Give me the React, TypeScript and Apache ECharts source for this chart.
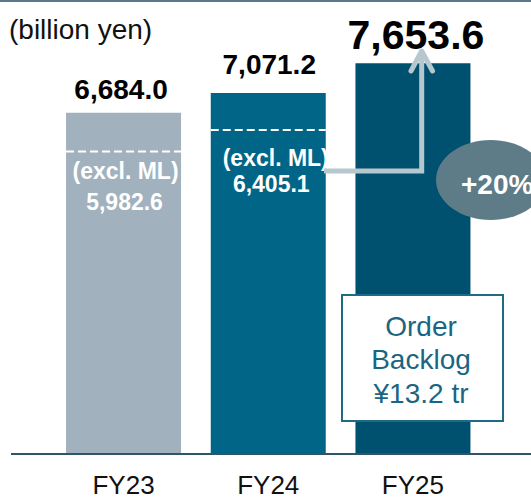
import React, { useEffect, useRef } from "react";
import * as echarts from "echarts";

const CATEGORIES = ["FY23", "FY24", "FY25"];
const TOTAL_VALUES = [6684.0, 7071.2, 7653.6];
const EXCL_ML_VALUES = [5982.6, 6405.1];
const EXCL_LABEL = "(excl. ML)";
const UNIT_LABEL = "(billion yen)";
const GROWTH_LABEL = "+20%";
const BACKLOG_LINES = ["Order", "Backlog", "¥13.2 tr"];

const BAR_COLORS = ["#A2B1BE", "#006587", "#00516F"];
const FONT = "'Liberation Sans', Arial, sans-serif";
const BAR_WIDTH = 115;
const LABEL_SIZES = [28, 28, 41];
const LABEL_DIST = [9, 15, 8];
const LABEL_DX = [-2.5, 1, 3];
// per-item layout of the white texts inside the bars: [dx line1, dy line1, dx line2, dy line2]
const EXCL_TEXT_LAYOUT = [
  [2, 19, 1, 50],
  [7.5, 28, 3, 54],
];

const fmt = (v: number) =>
  v.toLocaleString("en-US", { minimumFractionDigits: 1, maximumFractionDigits: 1 });

export default function App() {
  const ref = useRef<HTMLDivElement>(null);
  useEffect(() => {
    if (!ref.current) return;
    const chart = echarts.init(ref.current, undefined, { renderer: "svg" });
    chart.setOption({
      animation: false,
      grid: { left: 51.2, right: 45.7, top: 45.6, bottom: 45 },
      xAxis: {
        type: "category",
        data: CATEGORIES,
        axisLine: { show: false },
        axisTick: { show: false },
        axisLabel: { color: "#111", fontSize: 26, fontFamily: FONT, margin: 18 },
      },
      yAxis: {
        type: "value",
        min: 0,
        max: 8000,
        show: false,
        splitLine: { show: false },
      },
      series: [
        {
          type: "bar",
          barWidth: BAR_WIDTH,
          data: TOTAL_VALUES.map((v, i) => ({
            value: v,
            itemStyle: { color: BAR_COLORS[i] },
            label: {
              show: true,
              position: "top",
              distance: LABEL_DIST[i],
              offset: [LABEL_DX[i], 0],
              fontSize: LABEL_SIZES[i],
              fontWeight: "bold",
              fontFamily: FONT,
              color: "#000",
              formatter: () => fmt(v),
            },
          })),
          z: 2,
        },
        {
          type: "custom",
          data: EXCL_ML_VALUES.map((v, i) => [i, v]),
          encode: { x: 0, y: 1 },
          z: 3,
          renderItem: (params: any, api: any) => {
            const idx = params.dataIndex;
            const v = api.value(1);
            const p = api.coord([api.value(0), v]);
            const y = p[1] + 3;
            const half = BAR_WIDTH / 2;
            const L = EXCL_TEXT_LAYOUT[idx];
            const txt = (s: string, dx: number, dy: number) => ({
              type: "text",
              style: {
                text: s,
                x: p[0] + dx,
                y: y + dy,
                align: "center",
                verticalAlign: "middle",
                fill: "#fff",
                fontSize: 23,
                fontWeight: "bold",
                fontFamily: FONT,
              },
            });
            return {
              type: "group",
              children: [
                {
                  type: "line",
                  shape: { x1: p[0] - half, y1: y, x2: p[0] + half, y2: y },
                  style: { stroke: "#fff", lineWidth: 2, lineDash: [8, 4] },
                },
                txt(EXCL_LABEL, L[0], L[1]),
                txt(fmt(v), L[2], L[3]),
              ],
            };
          },
        },
      ],
      graphic: [
        { type: "rect", shape: { x: 0, y: 0, width: 531, height: 2 }, style: { fill: "#587985" }, z: 10 },
        { type: "line", shape: { x1: 11, y1: 454, x2: 531, y2: 454 }, style: { stroke: "#2F5566", lineWidth: 2 }, z: 10 },
        {
          type: "text",
          x: 9,
          y: 29,
          style: { text: UNIT_LABEL, fontSize: 28, fontFamily: FONT, fill: "#111", verticalAlign: "middle" },
          z: 10,
        },
        {
          type: "polyline",
          shape: { points: [[324, 171], [421.7, 171], [421.7, 52]] },
          style: { stroke: "#B7C7CE", lineWidth: 5, fill: "none" },
          z: 10,
        },
        {
          type: "polyline",
          shape: { points: [[411, 71], [421.7, 51], [432.5, 71]] },
          style: { stroke: "#B7C7CE", lineWidth: 5, fill: "none", lineCap: "round", lineJoin: "round" },
          z: 10,
        },
        {
          type: "ellipse",
          shape: { cx: 491, cy: 180, rx: 55, ry: 40 },
          style: { fill: "#5E7C87" },
          z: 10,
        },
        {
          type: "text",
          x: 461,
          y: 184,
          style: { text: GROWTH_LABEL, fontSize: 28, fontWeight: "bold", fontFamily: FONT, fill: "#fff", verticalAlign: "middle" },
          z: 11,
        },
        {
          type: "rect",
          shape: { x: 342, y: 295, width: 161, height: 126 },
          style: { fill: "#fff", stroke: "#1F6B86", lineWidth: 2 },
          z: 10,
        },
        ...BACKLOG_LINES.map((s, i) => ({
          type: "text",
          x: 421,
          y: 326 + i * 33.5,
          style: {
            text: s,
            fontSize: 28,
            fontFamily: FONT,
            fill: "#1A6682",
            align: "center",
            verticalAlign: "middle",
          },
          z: 11,
        })),
      ],
    });
    return () => chart.dispose();
  }, []);
  return (
    <div
      ref={ref}
      style={{ position: "absolute", left: 0, top: 0, width: 531, height: 499, background: "#fff" }}
    />
  );
}
